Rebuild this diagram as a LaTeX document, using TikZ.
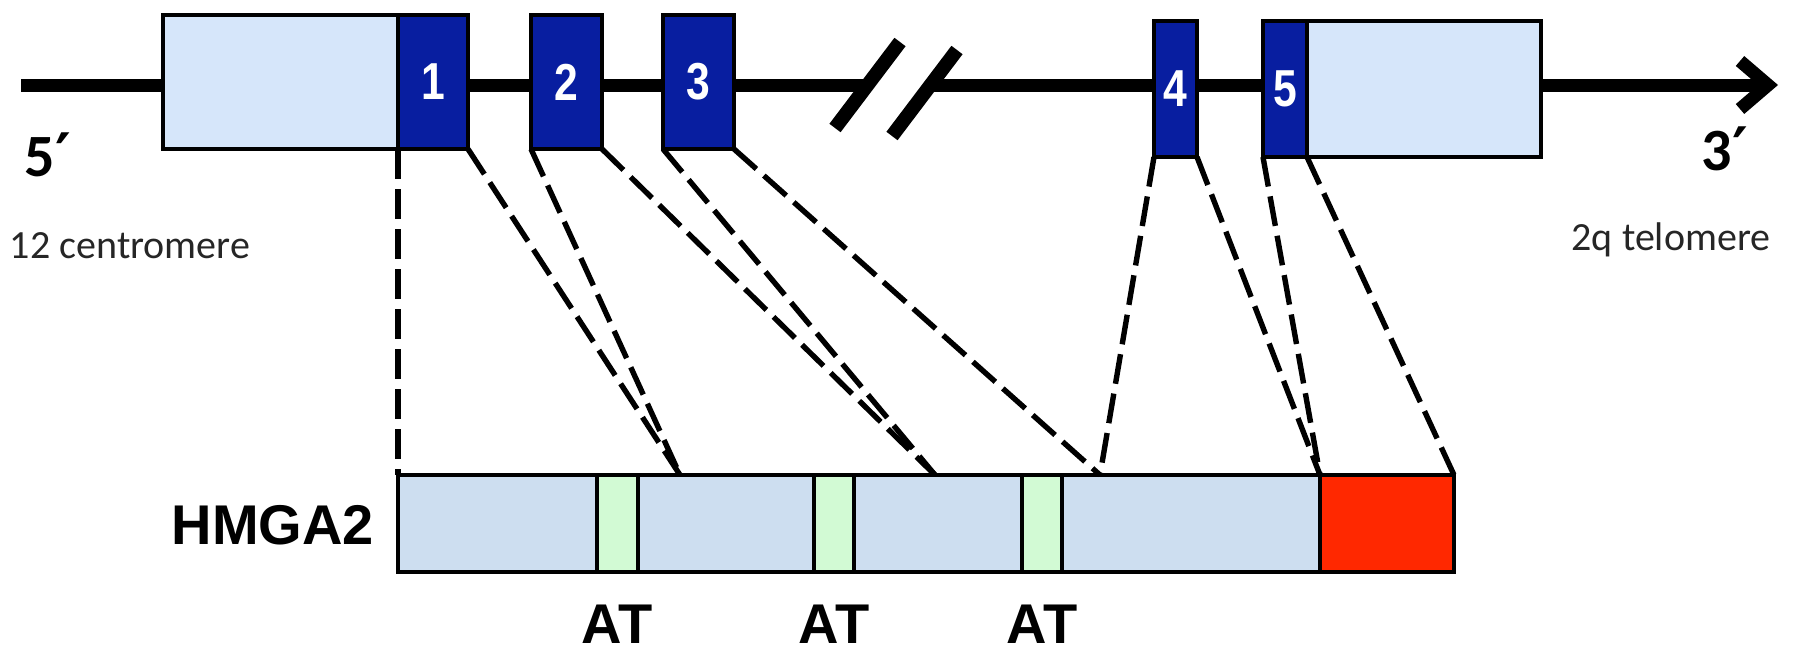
\documentclass[tikz,border=0pt]{standalone}
\usepackage{fontspec}
\setmainfont{Liberation Sans}
\newfontfamily\calfont{Carlito}
\newfontfamily\primefont{DejaVu Sans}
\newfontfamily\narrowfont[FakeStretch=0.82]{Liberation Sans}
\usetikzlibrary{arrows.meta}
\definecolor{utrblue}{RGB}{214,230,250}
\definecolor{exonblue}{RGB}{8,30,160}
\definecolor{barblue}{RGB}{205,222,240}
\definecolor{atgreen}{RGB}{210,250,212}
\definecolor{hmgred}{RGB}{255,40,0}
\begin{document}
\begin{tikzpicture}[x=0.5pt,y=-0.5pt,
  box/.style={draw=black, line width=2.4pt, inner sep=0pt, outer sep=0pt},
  utr/.style={box, fill=utrblue},
  exon/.style={box, fill=exonblue, text=white, font=\narrowfont\bfseries\fontsize{26}{26}\selectfont},
  seg/.style={box, fill=barblue, minimum height=48.5pt},
  atbox/.style={box, fill=atgreen, minimum height=48.5pt},
  redbox/.style={box, fill=hmgred, minimum height=48.5pt},
  mapline/.style={draw=black, dash pattern=on 15pt off 5pt, line width=2.7pt},
  chrom/.style={draw=black, line width=6.5pt},
  breakmark/.style={draw=black, line width=7pt},
  endlabel/.style={font=\calfont\bfseries\fontsize{30}{30}\selectfont},
  sidelabel/.style={font=\calfont\fontsize{20}{20}\selectfont, text=black!85},
  bigbold/.style={font=\bfseries\fontsize{28}{28}\selectfont}
]
\useasboundingbox (0,0) rectangle (1795,653);
% chromosome line
\coordinate (lstart) at (21,85);
\coordinate (b1) at (870,85);
\coordinate (b2) at (932,85);
\coordinate (lend) at (1778,85);
\draw[chrom] (lstart) -- (b1);
\draw[chrom, -{Straight Barb[length=14pt,width=24pt]}] (b2) -- (lend);
% break marks
\coordinate (s1a) at (835,128); \coordinate (s1b) at (900,42);
\coordinate (s2a) at (892,136); \coordinate (s2b) at (957,50);
\draw[breakmark] (s1a) -- (s1b);
\draw[breakmark] (s2a) -- (s2b);
% top boxes
\node[utr, minimum width=117.5pt, minimum height=67pt] (u1) at (280.5,82) {};
\node[exon, minimum width=35pt, minimum height=67pt] (e1) at (433,82) {1};
\node[exon, minimum width=35.5pt, minimum height=67pt] (e2) at (566.5,82) {2};
\node[exon, minimum width=35.5pt, minimum height=67pt] (e3) at (698.5,82) {3};
\node[exon, minimum width=21.5pt, minimum height=68pt] (e4) at (1175.5,89) {4};
\node[utr, minimum width=117pt, minimum height=68pt] (u2) at (1424,89) {};
\node[exon, minimum width=22pt, minimum height=68pt] (e5) at (1285,89) {5};
% labels
\node[endlabel] (p5) at (48,155) {5{\primefont\bfseries ′}};
\node[sidelabel] (cen) at (130,246) {12 centromere};
\node[endlabel] (p3) at (1725,149) {3{\primefont\bfseries ′}};
\node[sidelabel] (tel) at (1671,240) {2q telomere};
% bottom bar
\node[seg, minimum width=99.5pt] (s1) at (497.5,523.5) {};
\node[seg, minimum width=88pt] (s2) at (726,523.5) {};
\node[seg, minimum width=84pt] (s3) at (938,523.5) {};
\node[seg, minimum width=129pt] (s4) at (1191,523.5) {};
\node[atbox, minimum width=20.5pt] (a1) at (617.5,523.5) {};
\node[atbox, minimum width=20pt] (a2) at (834,523.5) {};
\node[atbox, minimum width=20pt] (a3) at (1042,523.5) {};
\node[redbox, minimum width=67pt] (r) at (1387,523.5) {};
\node[bigbold, anchor=east] (hm) at (381,525) {HMGA2};
\node[bigbold] (at1) at (617,624) {AT};
\node[bigbold] (at2) at (834,624) {AT};
\node[bigbold] (at3) at (1042,624) {AT};
% convergence points
\coordinate (c1) at (680,475);
\coordinate (c2) at (935,475);
\coordinate (c3) at (1100,475);
% mapping lines
\draw[mapline] (e1.south west) -- (s1.north west);
\draw[mapline] (e1.south east) -- (c1);
\draw[mapline] (e2.south west) -- (c1);
\draw[mapline] (e2.south east) -- (c2);
\draw[mapline] (e3.south west) -- (c2);
\draw[mapline] (e3.south east) -- (c3);
\draw[mapline] (e4.south west) -- (c3);
\draw[mapline] (e4.south east) -- (r.north west);
\draw[mapline] (e5.south west) -- (r.north west);
\draw[mapline] (e5.south east) -- (r.north east);
\end{tikzpicture}
\end{document}
